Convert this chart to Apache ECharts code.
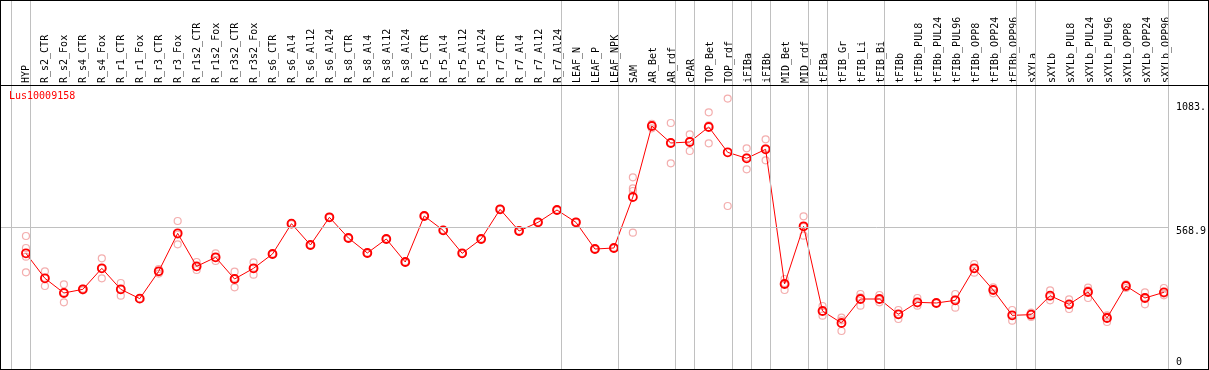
<!DOCTYPE html>
<html><head><meta charset="utf-8">
<script src="https://cdn.jsdelivr.net/npm/echarts@6/dist/echarts.min.js"></script>
<style>
html,body{margin:0;padding:0;background:#fff;}
#wrap{position:relative;width:1209px;height:370px;overflow:hidden;}
#chart{position:absolute;left:0;top:0;width:1209px;height:370px;}
#frame{position:absolute;left:0;top:0;width:1209px;height:370px;box-sizing:border-box;border:1px solid #000;pointer-events:none;}
#sep{position:absolute;left:0;top:85px;width:1209px;height:1px;background:#000;pointer-events:none;}
</style></head>
<body><div id="wrap"><div id="chart"></div><div id="sep"></div><div id="frame"></div></div>
<script>
const title = 'Lus10009158';
const categories = ['HYP','R_s2_CTR','R_s2_Fox','R_s4_CTR','R_s4_Fox','R_r1_CTR','R_r1_Fox','R_r3_CTR','R_r3_Fox','R_r1s2_CTR','R_r1s2_Fox','R_r3s2_CTR','R_r3s2_Fox','R_s6_CTR','R_s6_Al4','R_s6_Al12','R_s6_Al24','R_s8_CTR','R_s8_Al4','R_s8_Al12','R_s8_Al24','R_r5_CTR','R_r5_Al4','R_r5_Al12','R_r5_Al24','R_r7_CTR','R_r7_Al4','R_r7_Al12','R_r7_Al24','LEAF_N','LEAF_P','LEAF_NPK','SAM','AR_Bet','AR_rdf','cPAR','TOP_Bet','TOP_rdf','iFIBa','iFIBb','MID_Bet','MID_rdf','tFIBa','tFIB_Gr','tFIB_Li','tFIB_Bi','tFIBb','tFIBb_PUL8','tFIBb_PUL24','tFIBb_PUL96','tFIBb_OPP8','tFIBb_OPP24','tFIBb_OPP96','sXYLa','sXYLb','sXYLb_PUL8','sXYLb_PUL24','sXYLb_PUL96','sXYLb_OPP8','sXYLb_OPP24','sXYLb_OPP96'];
const means = [465.7,365.9,307.4,322.0,405.9,322.0,284.8,393.9,545.6,413.8,449.8,363.3,405.9,463.1,584.2,499.0,609.5,527.0,467.1,523.0,431.1,614.8,557.5,465.7,523.0,641.4,554.9,589.5,638.7,589.5,483.0,487.0,690.6,974.0,906.2,910.2,970.1,868.9,845.0,880.9,343.3,573.5,235.5,187.6,283.4,283.4,222.2,270.1,267.5,278.1,405.9,319.4,218.2,220.9,296.7,262.1,311.4,207.6,335.3,287.4,310.0];
const replicates = [
  [534.9,487.0,452.4,389.9],[393.9,335.3,368.0],[342.0,270.1,310.0],[324.7,318.0,322.0],[445.8,365.9,406.0],
  [347.3,296.7,322.0],[286.0,284.8,283.0],[403.2,393.9,385.0],[594.8,501.7,540.0],[431.1,399.2,411.0],
  [465.7,435.1,449.0],[392.5,330.0,367.0],[429.8,380.6,407.0],[465.0,463.1,461.0],[586.0,584.2,582.0],
  [501.0,499.0,497.0],[611.0,609.5,608.0],[529.0,527.0,525.0],[469.0,467.1,465.0],[525.0,523.0,521.0],
  [433.0,431.1,429.0],[617.0,614.8,613.0],[559.0,557.5,556.0],[467.0,465.7,464.0],[525.0,523.0,521.0],
  [643.0,641.4,640.0],[557.0,554.9,553.0],[591.0,589.5,588.0],[640.0,638.7,637.0],[591.0,589.5,588.0],
  [485.0,483.0,481.0],[489.0,487.0,485.0],[769.1,725.2,714.6,548.2],[964.7,978.0,983.0],[986.0,825.0,908.0],
  [940.8,874.2,915.0],[1028.6,904.9,977.0],[1083.4,654.7],[884.9,801.1,849.0],[920.8,837.0,885.0],
  [363.3,319.4,347.0],[613.4,536.3,571.0],[255.5,216.9,234.0],[208.9,155.7,198.2],[303.4,256.8,290.0],
  [299.4,270.1,281.0],[239.5,203.6,223.0],[287.4,256.8,266.0],[268.5,267.5,266.5],[303.4,248.8,282.0],
  [423.2,388.6,406.0],[330.0,306.1,322.0],[239.5,196.9,218.0],[228.9,211.6,222.0],[318.0,278.1,294.0],
  [282.1,243.5,261.0],[328.7,287.4,318.0],[218.2,191.6,213.0],[342.0,327.3,337.0],[310.0,262.1,290.0],
  [327.3,298.1,305.0]
];
const groupEnds = [-1,0,28,31,34,35,37,38,39,41,42,45,52,53,60];
const yLabelValues = [0, 568.9, 1083.4];
const midLine = 568.9;

const FONT = 'DejaVu Sans Mono';
const chart = echarts.init(document.getElementById('chart'), null, {renderer:'canvas'});
const mainData = means.map((v,i)=>[i,v]);
const repData = [];
replicates.forEach((arr,i)=>arr.forEach(v=>repData.push([i,v])));
const xMin = -26/19, xMax = xMin + 1171/19;

chart.setOption({
  animation:false,
  backgroundColor:'#fff',
  title:{text:title,left:9,top:91,padding:0,textStyle:{color:'#ff0000',fontFamily:FONT,fontSize:10,fontWeight:'normal'}},
  grid:[
    {left:0,right:38,top:0,bottom:0,containLabel:false},
    {left:16.5,right:33.5,top:85,bottom:284,containLabel:false}
  ],
  xAxis:[
    {type:'value',gridIndex:0,min:xMin,max:xMax,show:false},
    {type:'category',gridIndex:1,position:'top',data:categories,boundaryGap:true,
     axisLine:{show:false},axisTick:{show:false},splitLine:{show:false},
     axisLabel:{rotate:90,margin:2,interval:0,color:'#000',fontFamily:FONT,fontSize:10}}
  ],
  yAxis:[
    {type:'value',gridIndex:0,min:0,max:1477,position:'right',
     axisLine:{show:false},axisTick:{show:false},splitLine:{show:false},
     axisLabel:{customValues:yLabelValues,margin:7,color:'#000',fontFamily:FONT,fontSize:10,verticalAlign:'middle',
       formatter:function(v){const s=String(v).slice(0,5);return v===0?'{z|'+s+'}':(v===midLine?'{m|'+s+'}':'{t|'+s+'}');},
       rich:{
         z:{fontFamily:FONT,fontSize:10,color:'#000',padding:[0,0,16,0]},
         m:{fontFamily:FONT,fontSize:10,color:'#000',padding:[8,0,0,0]},
         t:{fontFamily:FONT,fontSize:10,color:'#000',padding:[17,0,0,0]}
       }}},
    {type:'value',gridIndex:1,show:false}
  ],
  series:[
    {type:'line',xAxisIndex:0,yAxisIndex:0,data:[],silent:true,z:1,
     markLine:{silent:true,symbol:['none','none'],label:{show:false},
       lineStyle:{color:'#c0c0c0',width:1,type:'solid'},
       data:groupEnds.map(k=>({xAxis:k+0.23})).concat([{yAxis:midLine}])}},
    {type:'scatter',xAxisIndex:0,yAxisIndex:0,data:repData,symbol:'circle',symbolSize:7,z:2,silent:true,
     itemStyle:{color:'rgba(0,0,0,0)',borderColor:'#f09a9a',borderWidth:1.2}},
    {type:'line',xAxisIndex:0,yAxisIndex:0,data:mainData,symbol:'circle',symbolSize:8,z:3,silent:true,
     lineStyle:{color:'#ff0000',width:1},
     itemStyle:{color:'rgba(0,0,0,0)',borderColor:'#ff0000',borderWidth:1.8}}
  ]
});
</script>
</body></html>
